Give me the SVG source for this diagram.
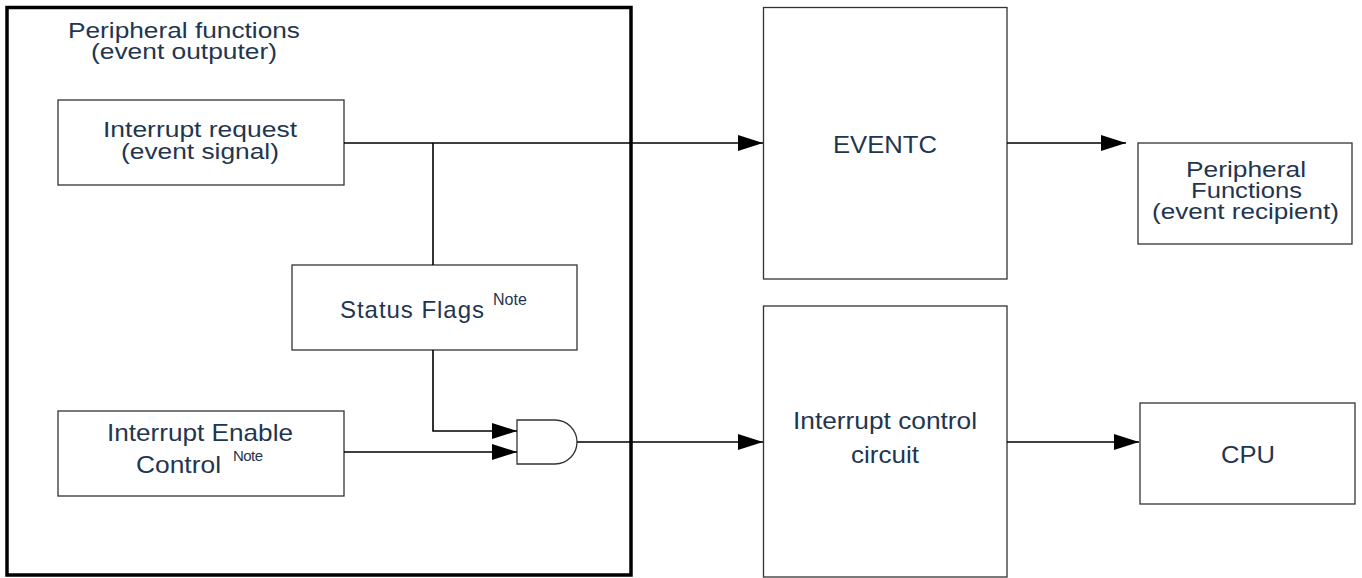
<svg xmlns="http://www.w3.org/2000/svg" width="1362" height="578" viewBox="0 0 1362 578">
<style>
.box{fill:#fff;stroke:#333;stroke-width:1.3}
.t{font-family:"Liberation Sans",Arial,sans-serif;font-size:24px;fill:#1f3650;text-anchor:middle}
.s{font-size:22px}
.sup{font-family:"Liberation Sans",Arial,sans-serif;font-size:16px;fill:#1f3650}
.ln{fill:none;stroke:#000;stroke-width:1.6}
</style>
<defs>
<marker id="ah" markerUnits="userSpaceOnUse" markerWidth="26" markerHeight="17" refX="25" refY="8" orient="auto">
<path d="M0,0 L25,8 L0,16 Z" fill="#000"/>
</marker>
</defs>
<rect width="1362" height="578" fill="#fff"/>
<g id="peripheral-outputer">
<rect x="7" y="7.5" width="624" height="567.5" fill="none" stroke="#000" stroke-width="3.5"/>
<text class="t s" x="184" y="38" textLength="232" lengthAdjust="spacingAndGlyphs">Peripheral functions</text>
<text class="t s" x="184" y="59" textLength="186" lengthAdjust="spacingAndGlyphs">(event outputer)</text>
</g>
<g id="interrupt-request">
<rect class="box" x="58" y="100" width="286" height="85"/>
<text class="t s" x="200" y="137" textLength="194" lengthAdjust="spacingAndGlyphs">Interrupt request</text>
<text class="t s" x="200" y="159" textLength="158" lengthAdjust="spacingAndGlyphs">(event signal)</text>
</g>
<g id="status-flags">
<rect class="box" x="292" y="265" width="285" height="85"/>
<text class="t" x="412" y="318" textLength="144" lengthAdjust="spacing">Status Flags</text>
<text class="sup" x="493" y="305" textLength="34" lengthAdjust="spacing">Note</text>
</g>
<g id="interrupt-enable">
<rect class="box" x="58" y="411" width="286" height="85"/>
<text class="t" x="200" y="441" textLength="186" lengthAdjust="spacingAndGlyphs">Interrupt Enable</text>
<text class="t" x="178.5" y="473" textLength="85" lengthAdjust="spacingAndGlyphs">Control</text>
<text class="sup" x="233" y="461" style="font-size:15px" textLength="30" lengthAdjust="spacing">Note</text>
</g>
<g id="and-gate">
<path d="M517,420 H555 A22,22 0 0 1 555,464 H517 Z" fill="#fff" stroke="#333" stroke-width="1.3"/>
</g>
<g id="eventc">
<rect class="box" x="763.5" y="7.5" width="243.5" height="271.5"/>
<text class="t" x="885" y="153" textLength="104" lengthAdjust="spacingAndGlyphs">EVENTC</text>
</g>
<g id="peripheral-recipient">
<rect class="box" x="1138" y="143" width="214" height="101"/>
<text class="t s" x="1246" y="177" textLength="120" lengthAdjust="spacingAndGlyphs">Peripheral</text>
<text class="t s" x="1246.5" y="198" textLength="111" lengthAdjust="spacingAndGlyphs">Functions</text>
<text class="t s" x="1245.5" y="219" textLength="187" lengthAdjust="spacingAndGlyphs">(event recipient)</text>
</g>
<g id="interrupt-control">
<rect class="box" x="763.5" y="306" width="243.5" height="271"/>
<text class="t" x="885" y="429" textLength="184" lengthAdjust="spacingAndGlyphs">Interrupt control</text>
<text class="t" x="885" y="463" textLength="68" lengthAdjust="spacingAndGlyphs">circuit</text>
</g>
<g id="cpu">
<rect class="box" x="1140" y="403" width="215" height="101"/>
<text class="t" x="1248" y="463" textLength="54" lengthAdjust="spacingAndGlyphs">CPU</text>
</g>
<g id="connectors">
<path class="ln" d="M344,143 H763" marker-end="url(#ah)"/>
<path class="ln" d="M433,143 V265"/>
<path class="ln" d="M433,350 V431 H517" marker-end="url(#ah)"/>
<path class="ln" d="M344,452 H517" marker-end="url(#ah)"/>
<path class="ln" d="M577,442 H763" marker-end="url(#ah)"/>
<path class="ln" d="M1007,143 H1126" marker-end="url(#ah)"/>
<path class="ln" d="M1007,442 H1139" marker-end="url(#ah)"/>
</g>
</svg>
